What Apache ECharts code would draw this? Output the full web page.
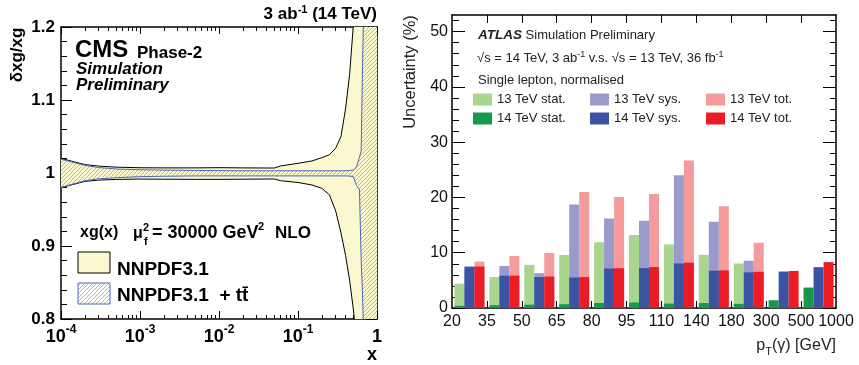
<!DOCTYPE html>
<html><head><meta charset="utf-8">
<script src="https://cdn.jsdelivr.net/npm/echarts@6/dist/echarts.min.js"></script>
<style>html,body{margin:0;padding:0;background:#fff}#c{width:859px;height:365px}</style>
</head><body><div id="c"></div>
<script>
// ---------- Left panel data (CMS) ----------
const pdfX = [0.0001,0.0002,0.0003,0.0005,0.001,0.002,0.005,0.01,0.02,0.05,0.06,0.1,0.15,0.2,0.25,0.3,0.35,0.4,0.45,0.5,0.55,0.6,0.63,0.65,0.67,0.7,0.8,1];
const nnpdfUpper = [1.020,1.0115,1.0095,1.008,1.0072,1.007,1.007,1.0073,1.007,1.0068,1.0096,1.0133,1.0165,1.021,1.025,1.034,1.05,1.088,1.135,1.2,1.3,1.45,1.55,1.6,1.65,1.7,1.9,2.2];
const nnpdfLower = [0.980,0.9885,0.9903,0.9912,0.9917,0.9915,0.9913,0.9913,0.9915,0.9918,0.9895,0.987,0.9836,0.979,0.970,0.948,0.918,0.887,0.853,0.815,0.77,0.70,0.65,0.6,0.55,0.5,0.4,0.2];
const ttUpper = [1.019,1.0105,1.0075,1.0055,1.0045,1.004,1.0035,1.0033,1.003,1.003,1.003,1.003,1.003,1.003,1.003,1.003,1.003,1.003,1.0035,1.004,1.008,1.022,1.03,1.12,1.2,1.35,1.5,1.6];
const ttLower = [0.980,0.9895,0.9920,0.9935,0.995,0.9955,0.996,0.996,0.996,0.996,0.996,0.996,0.996,0.996,0.996,0.996,0.996,0.996,0.9958,0.995,0.983,0.977,0.88,0.845,0.80,0.7,0.5,0.4];
const xMajorTicks = [0.0001,0.001,0.01,0.1,1];
const yTicksLeft = [0.8,0.9,1.0,1.1,1.2];

// ---------- Right panel data (ATLAS) ----------
const ptEdges = ['20','35','50','65','80','95','110','140','180','300','500','1000'];
const ptBins = ['20-35','35-50','50-65','65-80','80-95','95-110','110-140','140-180','180-300','300-500','500-1000'];
const stat13 = [4.4,5.6,7.8,9.6,11.9,13.2,11.5,9.6,8.05,null,null];
const sys13  = [7.1,7.6,6.3,18.7,16.2,15.8,24.0,15.6,8.55,null,null];
const tot13  = [8.4,9.4,9.95,21.0,20.1,20.6,26.7,18.4,11.8,null,null];
const stat14 = [0.4,0.5,0.6,0.7,0.9,1.0,0.8,0.9,0.75,1.4,3.7];
const sys14  = [7.5,5.85,5.6,5.5,7.15,7.2,8.05,6.75,6.45,6.6,7.4];
const tot14  = [7.5,5.85,5.7,5.6,7.2,7.4,8.2,6.8,6.55,6.7,8.3];
const yTicksRight = [0,10,20,30,40,50];

const FF = "'Liberation Sans', Arial, Helvetica, sans-serif";
const YEL = '#fbf8cf';

function hatch(bg) {
  const s = 4;
  const c = document.createElement('canvas'); c.width = s; c.height = s;
  const g = c.getContext('2d');
  if (bg) { g.fillStyle = bg; g.fillRect(0, 0, s, s); }
  g.strokeStyle = '#97a3d4'; g.lineWidth = 0.8;
  g.beginPath();
  g.moveTo(-1, s + 1); g.lineTo(s + 1, -1);
  g.moveTo(-1, 1); g.lineTo(1, -1);
  g.moveTo(s - 1, s + 1); g.lineTo(s + 1, s - 1);
  g.stroke();
  return c;
}
const hatchPat = {image: hatch(null), repeat: 'repeat'};
const hatchPatW = {image: hatch('#ffffff'), repeat: 'repeat'};

const xMinor = [];
for (let e = -4; e < 0; e++) for (let k = 2; k <= 9; k++) xMinor.push(+(k * Math.pow(10, e)).toPrecision(6));
const yMinorLeft = [];
for (let i = 0; i <= 20; i++) { const v = +(0.8 + i * 0.02).toFixed(2); if (i % 5 !== 0) yMinorLeft.push(v); }
const yMinorRight = [];
for (let v = 2; v <= 52; v += 2) if (v % 10 !== 0) yMinorRight.push(v);
const binEdgeIdx = ptEdges.map((_, i) => i);

const blk = {color: '#000', width: 1};
function logX(pos, ticks, len, showLine, labels) {
  return {type: 'log', gridIndex: 0, min: 0.0001, max: 1, position: pos,
    axisLine: {show: showLine, onZero: false, lineStyle: {color: '#000', width: 1.5}},
    axisTick: {show: true, inside: true, length: len, customValues: ticks, lineStyle: blk},
    axisLabel: labels ? labels : {show: false}, splitLine: {show: false}, minorTick: {show: false}};
}
function linY(grid, min, max, pos, ticks, len, showLine, labels) {
  return {type: 'value', gridIndex: grid, min: min, max: max, position: pos,
    axisLine: {show: showLine, onZero: false, lineStyle: {color: '#000', width: 1.5}},
    axisTick: {show: true, inside: true, length: len, customValues: ticks, lineStyle: blk},
    axisLabel: labels ? labels : {show: false}, splitLine: {show: false}};
}
function valX(pos, len, labels) {
  return {type: 'value', gridIndex: 1, min: 0, max: ptEdges.length - 1, interval: 1, position: pos,
    axisLine: {show: true, onZero: false, lineStyle: {color: '#000', width: 1.5}},
    axisTick: {show: true, inside: true, length: len, customValues: binEdgeIdx.slice(1, -1), lineStyle: blk},
    axisLabel: labels ? labels : {show: false}, splitLine: {show: false}};
}

const xAxis = [
  logX('bottom', xMajorTicks, 8, true, {
    show: true, customValues: xMajorTicks, margin: 5,
    formatter: v => { const e = Math.round(Math.log10(v)); return e === 0 ? '{b|1}' : '{b|10}{s|' + e + '}'; },
    rich: {b: {fontFamily: FF, fontWeight: 'bold', fontSize: 18, color: '#000', lineHeight: 22, verticalAlign: 'bottom'},
           s: {fontFamily: FF, fontWeight: 'bold', fontSize: 12, color: '#000', lineHeight: 22, verticalAlign: 'top'}}
  }),
  logX('bottom', xMinor, 4, false),
  logX('top', xMajorTicks, 7, true),
  logX('top', xMinor, 4, false),
  {type: 'category', gridIndex: 1, data: ptBins, show: false},
  {type: 'category', gridIndex: 1, data: ptBins, show: false},
  valX('bottom', 7, {show: true, margin: 6, formatter: v => ptEdges[v], fontFamily: FF, fontSize: 16, color: '#111'}),
  valX('top', 8)
];
const yAxis = [
  linY(0, 0.8, 1.2, 'left', yTicksLeft, 11, true, {show: true, customValues: yTicksLeft, margin: 6,
    formatter: v => (Math.abs(v - 1) < 1e-9 ? '1' : v.toFixed(1)), fontFamily: FF, fontWeight: 'bold', fontSize: 17, color: '#000'}),
  linY(0, 0.8, 1.2, 'left', yMinorLeft, 6, false),
  linY(0, 0.8, 1.2, 'right', yTicksLeft, 11, true),
  linY(0, 0.8, 1.2, 'right', yMinorLeft, 6, false),
  linY(1, 0, 53, 'left', yTicksRight, 13, true, {show: true, customValues: yTicksRight, margin: 4,
    fontFamily: FF, fontSize: 16, color: '#111'}),
  linY(1, 0, 53, 'left', yMinorRight, 7, false),
  linY(1, 0, 53, 'right', yTicksRight, 13, true),
  linY(1, 0, 53, 'right', yMinorRight, 6, false)
];

// Uncertainty band drawn as a polygon between lower and upper edges, through the axes' scales
function band(lower, upper, fill, lineColor, z) {
  return {
    type: 'custom', xAxisIndex: 0, yAxisIndex: 0, z: z, silent: true, clip: true,
    data: pdfX.map((x, i) => [x, lower[i], upper[i]]),
    encode: {x: 0, y: [1, 2]},
    renderItem: (params, api) => {
      if (params.dataIndex !== 0) return;
      const up = pdfX.map((x, i) => api.coord([x, upper[i]]));
      const lo = pdfX.map((x, i) => api.coord([x, lower[i]]));
      const cs = params.coordSys;
      return {
        type: 'group',
        clipPath: {type: 'rect', shape: {x: cs.x, y: cs.y, width: cs.width, height: cs.height}},
        children: [
          {type: 'polygon', shape: {points: up.concat(lo.slice().reverse())}, style: {fill: fill, stroke: null}},
          {type: 'polyline', shape: {points: up}, style: {stroke: lineColor, lineWidth: 1, fill: null}},
          {type: 'polyline', shape: {points: lo}, style: {stroke: lineColor, lineWidth: 1, fill: null}}
        ]
      };
    }
  };
}
function bars(name, data, color, xi, z) {
  return {type: 'bar', name: name, xAxisIndex: xi, yAxisIndex: 4, data: data, z: z, silent: true,
    barCategoryGap: '14%', barGap: '0%', itemStyle: {color: color}};
}

const series = [
  band(nnpdfLower, nnpdfUpper, YEL, '#000', 2),
  band(ttLower, ttUpper, hatchPat, '#5067bd', 3),
  bars('13 TeV stat.', stat13, '#a9d68e', 5, 2),
  bars('13 TeV sys.', sys13, '#9a9acc', 5, 2),
  bars('13 TeV tot.', tot13, '#f59b9b', 5, 2),
  bars('14 TeV stat.', stat14, '#16994a', 4, 3),
  bars('14 TeV sys.', sys14, '#3a53a4', 4, 3),
  bars('14 TeV tot.', tot14, '#ec1c24', 4, 3)
];

function leg(left, items) {
  return {show: true, orient: 'vertical', left: left, top: 93, itemWidth: 19, itemHeight: 12, itemGap: 6,
    selectedMode: false, icon: 'rect', data: items, padding: 0,
    textStyle: {fontFamily: FF, fontSize: 13, color: '#222'}};
}

function txt(x, y, text, opts) {
  return {type: 'text', x: x, y: y, silent: true,
    style: Object.assign({text: text, fill: '#000', fontFamily: FF, fontSize: 16, align: 'left', verticalAlign: 'middle'}, opts || {})};
}
const supB = {fontFamily: FF, fontWeight: 'bold', fontSize: 11, verticalAlign: 'top', lineHeight: 20};
const supR = {fontFamily: FF, fontSize: 9, verticalAlign: 'top', lineHeight: 16};

const graphic = [
  // left panel texts
  txt(377, 14, '3 ab{s|-1} (14 TeV)', {fontWeight: 'bold', fontSize: 17, align: 'right', lineHeight: 20, rich: {s: supB}}),
  txt(75, 50, 'CMS', {fontWeight: 'bold', fontSize: 24}),
  txt(137, 53, 'Phase-2', {fontWeight: 'bold', fontSize: 17}),
  txt(76, 69, 'Simulation', {fontWeight: 'bold', fontStyle: 'italic', fontSize: 17}),
  txt(76, 85, 'Preliminary', {fontWeight: 'bold', fontStyle: 'italic', fontSize: 17}),
  Object.assign(txt(17, 55, 'δxg/xg', {fontWeight: 'bold', fontSize: 17, align: 'center'}), {rotation: Math.PI / 2}),
  txt(372, 355, 'x', {fontWeight: 'bold', fontSize: 18, align: 'center'}),
  txt(80, 233, 'xg(x)', {fontWeight: 'bold', fontSize: 16}),
  txt(133, 234, 'μ', {fontWeight: 'bold', fontSize: 16}),
  txt(143, 228, '2', {fontWeight: 'bold', fontSize: 11}),
  txt(144, 242, 'f', {fontWeight: 'bold', fontSize: 11}),
  txt(152, 233, '= 30000 GeV', {fontWeight: 'bold', fontSize: 18}),
  txt(258, 227, '2', {fontWeight: 'bold', fontSize: 11}),
  txt(275, 233, 'NLO', {fontWeight: 'bold', fontSize: 17}),
  {type: 'rect', shape: {x: 78, y: 252, width: 32, height: 21}, style: {fill: YEL, stroke: '#000', lineWidth: 1}, silent: true},
  txt(117, 270, 'NNPDF3.1', {fontWeight: 'bold', fontSize: 19}),
  {type: 'rect', shape: {x: 78, y: 283, width: 32, height: 21}, style: {fill: hatchPatW, stroke: '#5067bd', lineWidth: 1}, silent: true},
  txt(117, 296, 'NNPDF3.1  + tt\u0304', {fontWeight: 'bold', fontSize: 19}),
  // right panel texts
  txt(478, 35, '{a|ATLAS} Simulation Preliminary', {fontSize: 13, fill: '#222',
    rich: {a: {fontFamily: FF, fontWeight: 'bold', fontStyle: 'italic', fontSize: 13.5, fill: '#222'}}}),
  txt(477, 58, '√s = 14 TeV, 3 ab{s|-1} v.s. √s = 13 TeV, 36 fb{s|-1}', {fontSize: 13, fill: '#222', lineHeight: 16, rich: {s: supR}}),
  txt(478, 80, 'Single lepton, normalised', {fontSize: 13, fill: '#222'}),
  Object.assign(txt(410, 72, 'Uncertainty (%)', {fontSize: 16.5, fill: '#222', align: 'center'}), {rotation: Math.PI / 2}),
  txt(836, 346, 'p{t|T}(γ) [GeV]', {fontSize: 16, fill: '#222', align: 'right', lineHeight: 22,
    rich: {t: {fontFamily: FF, fontSize: 11, verticalAlign: 'bottom', lineHeight: 22, fill: '#222'}}})
];

const chart = echarts.init(document.getElementById('c'), null, {renderer: 'canvas'});
chart.setOption({
  animation: false,
  backgroundColor: '#fff',
  grid: [
    {left: 61, right: 482, top: 27, bottom: 46, containLabel: false, outerBoundsMode: 'none'},
    {left: 452, right: 23, top: 15, bottom: 57, containLabel: false, outerBoundsMode: 'none'}
  ],
  legend: [
    leg(473, ['13 TeV stat.', '14 TeV stat.']),
    leg(590, ['13 TeV sys.', '14 TeV sys.']),
    leg(706, ['13 TeV tot.', '14 TeV tot.'])
  ],
  tooltip: {show: false},
  xAxis: xAxis,
  yAxis: yAxis,
  series: series,
  graphic: {elements: graphic}
});
</script>
</body></html>
